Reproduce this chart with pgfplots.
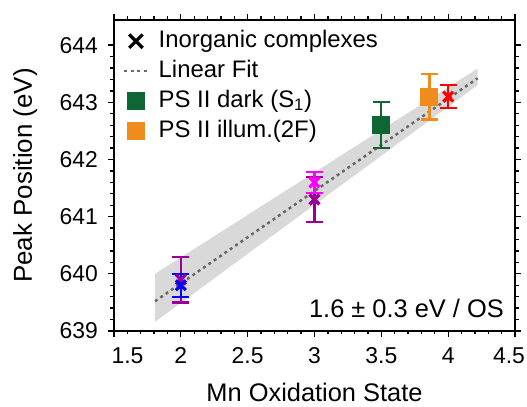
\documentclass[border=0pt]{standalone}
\usepackage{pgfplots}
\pgfplotsset{compat=1.18}
\usepackage{fontspec}
\setmainfont{Liberation Sans}
\definecolor{cgreen}{RGB}{14,102,52}
\definecolor{corange}{RGB}{240,140,30}
\definecolor{cpurple}{RGB}{153,0,153}
\definecolor{cmagenta}{RGB}{255,0,255}
\definecolor{cband}{RGB}{217,217,217}
\definecolor{cfit}{RGB}{105,105,105}
\pgfplotsset{
  eb/.style={color=#1, only marks, line width=2.2bp,
    error bars/y dir=both, error bars/y explicit,
    error bars/error bar style={line width=2.2bp, color=#1, solid},
    error bars/error mark options={rotate=90, line width=2.2bp, mark size=8.5bp, color=#1, solid}},
}
\begin{document}
\begin{tikzpicture}
\begin{axis}[
  scale only axis, width=401bp, height=311bp,
  xmin=1.5, xmax=4.5, ymin=639, ymax=644.44,
  xtick={1.5,2,2.5,3,3.5,4,4.5}, ytick={639,640,641,642,643,644},
  xticklabels={{\kern27bp 1.5},2,2.5,3,3.5,4,{4.5\kern12bp}},
  minor x tick num=4, minor y tick num=4,
  tick align=outside,
  major tick length=6bp, minor tick length=3.5bp,
  axis line style={line width=1.6bp},
  every tick/.style={black, line width=1.3bp},
  tick label style={font=\fontsize{23}{27}\selectfont},
  xticklabel style={anchor=base, inner sep=0pt, yshift=-27bp},
  yticklabel style={anchor=east, inner sep=0pt, xshift=-10bp},
  /pgf/number format/assume math mode=true,
  legend cell align=left,
  legend style={draw=none, fill=none, at={(rel axis cs:0,1)}, anchor=north west,
    xshift=9bp, yshift=-8bp, font=\fontsize{24}{28}\selectfont,
    row sep=4bp, column sep=8bp, inner sep=0pt,
    nodes={inner sep=2bp, text height=17bp, text depth=5bp}},
  legend image code/.code={\draw[mark repeat=2,mark phase=2,#1] plot coordinates {(0bp,0bp) (11.5bp,0bp) (23bp,0bp)};},
]
% confidence band and fit
\addplot[fill=cband, draw=none, forget plot] coordinates {(1.807,639.16) (1.807,640.0) (4.22,643.59) (4.22,643.30)} --cycle;
\addplot[cfit, line width=2.5bp, dash pattern=on 3bp off 3.5bp, forget plot] coordinates {(1.807,639.52) (4.22,643.42)};

% legend
\addlegendimage{only marks, mark=x, black, mark size=9.5bp, mark options={line width=3.2bp}}
\addlegendentry{Inorganic complexes}
\addlegendimage{cfit, line width=2.5bp, dash pattern=on 3bp off 3.5bp}
\addlegendentry{Linear Fit}
\addlegendimage{only marks, mark=square*, cgreen, mark size=8.5bp}
\addlegendentry{PS II dark (S\textsubscript{1})}
\addlegendimage{only marks, mark=square*, corange, mark size=8.5bp}
\addlegendentry{PS II illum.(2F)}

% inorganic complexes
\addplot[eb=cpurple, mark=x, mark size=7bp, mark options={line width=3.2bp, solid}, forget plot] coordinates {(2,639.9) +- (0,0.4)};
\addplot[eb=blue, mark=x, mark size=7bp, mark options={line width=3.2bp, solid}, forget plot] coordinates {(2,639.8) +- (0,0.2)};
\addplot[eb=cpurple, mark=x, mark size=7bp, mark options={line width=3.2bp, solid}, forget plot] coordinates {(3,641.3) +- (0,0.4)};
\addplot[eb=cmagenta, mark=x, mark size=7bp, mark options={line width=3.2bp, solid}, forget plot] coordinates {(3,641.6) +- (0,0.18)};
\addplot[eb=red, mark=x, mark size=7bp, mark options={line width=3.2bp, solid}, forget plot] coordinates {(4,643.1) +- (0,0.2)};
% PS II
\addplot[eb=cgreen, mark=square*, mark size=8.5bp, mark options={line width=0pt, solid}, forget plot] coordinates {(3.5,642.6) +- (0,0.4)};
\addplot[eb=corange, mark=square*, mark size=8.5bp, mark options={line width=0pt, solid}, forget plot] coordinates {(3.86,643.1) +- (0,0.4)};

\node[anchor=base east, inner sep=0pt, font=\fontsize{25.5}{30}\selectfont] at (rel axis cs:0.9725,0.045) {1.6 ± 0.3 eV / OS};
\end{axis}
\node[rotate=90, anchor=base, font=\fontsize{26}{30}\selectfont] at ([xshift=-82bp]current axis.west) {Peak Position (eV)};
\node[anchor=base, inner sep=0pt, font=\fontsize{25.5}{30}\selectfont] at ([yshift=-70bp]current axis.south) {Mn Oxidation State};
\pgfresetboundingbox
\path ([xshift=-114bp,yshift=-76bp]current axis.south west) rectangle ([xshift=12bp,yshift=20bp]current axis.north east);
\end{tikzpicture}
\end{document}
